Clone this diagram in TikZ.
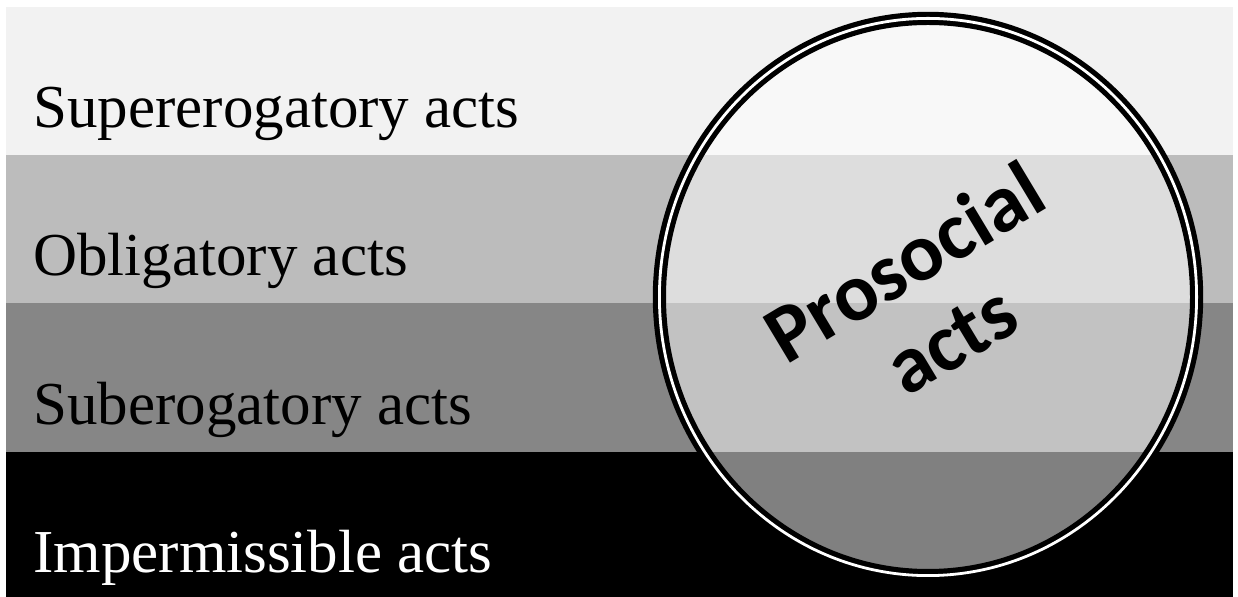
\documentclass[tikz,border=0pt]{standalone}
\usepackage{fontspec}
\setmainfont{Liberation Serif}
\newfontfamily\roundfont{Carlito}
\usetikzlibrary{positioning}
\definecolor{mylight}{RGB}{242,242,242}
\definecolor{mymid}{RGB}{188,188,188}
\definecolor{mydark}{RGB}{134,134,134}

\begin{document}
\begin{tikzpicture}[x=0.5pt,y=-0.5pt,
	bandlabel/.style={anchor=base west,inner sep=0pt,font=\fontsize{30.5}{36}\selectfont},
	ringline/.style={line width=2.6pt,double=white,double distance=1.4pt},
	ringfill/.style={fill=white,opacity=0.5},
	ringtext/.style={rotate=31,align=center,inner sep=0pt,font=\roundfont\bfseries\fontsize{41}{45}\selectfont}
	]
	
	\useasboundingbox (0,0) rectangle (1238,597);
	\fill[white] (0,0) rectangle (1238,597);
	
	% the bands
	\fill[mylight] (6,7) rectangle (1233,155);
	\fill[mymid] (6,155) rectangle (1233,303);
	\fill[mydark] (6,303) rectangle (1233,452);
	\fill[black] (6,452) rectangle (1233,597);
	
	% band labels
	\node[bandlabel] (super) at (33,128) {Supererogatory acts};
	\node[bandlabel] (oblig) at (33,276) {Obligatory acts};
	\node[bandlabel] (suber) at (33,425) {Suberogatory acts};
	\node[bandlabel,white] (imperm) at (33,573) {Impermissible acts};
	
	% the ring
	\fill[ringfill] (928,297) ellipse [x radius=134.3pt,y radius=139.3pt];
	\draw[ringline] (928,297) ellipse [x radius=134.3pt,y radius=139.3pt];
	
	\node[ringtext] (prosocial) at (927,300) {Prosocial\\acts};
	
\end{tikzpicture}
\end{document}
